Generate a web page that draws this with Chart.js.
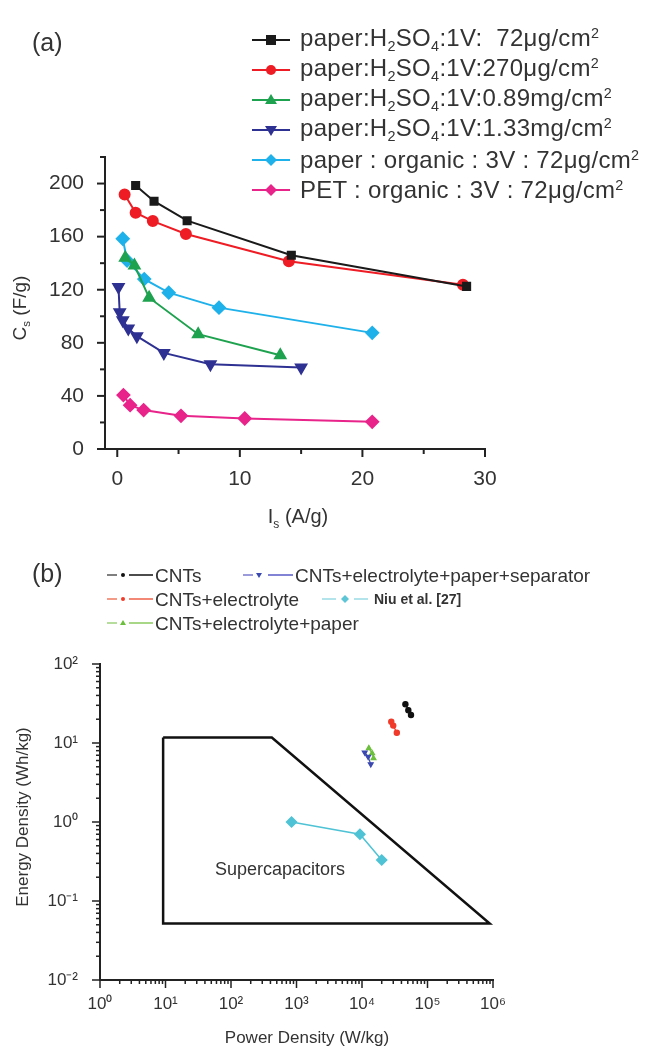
<!DOCTYPE html>
<html>
<head>
<meta charset="utf-8">
<script src="https://cdn.jsdelivr.net/npm/chart.js@4"></script>
<style>
  body { margin: 0; background: #fff; width: 655px; height: 1046px; position: relative; overflow: hidden;
         font-family: "Liberation Sans", Arial, sans-serif; color: #333; }
  canvas { position: absolute; left: 0; }
  .t { position: absolute; white-space: nowrap; line-height: 1; }
  .rot { transform: translate(-50%, -50%) rotate(-90deg); }
  .ctr { transform: translate(-50%, -50%); }
  sub { font-size: 60%; vertical-align: -0.35em; }
  sup { font-size: 60%; vertical-align: 0.55em; }
  #legA .t { font-size: 24px; letter-spacing: 0.3px; transform: translateY(-50%); }
  #legB .t { font-size: 19px; transform: translateY(-50%); }
</style>
</head>
<body>
<canvas id="chartA" width="655" height="540" style="top:0"></canvas>
<canvas id="chartB" width="655" height="506" style="top:540px"></canvas>

<!-- (a) texts -->
<div class="t" style="left:32px;top:30px;font-size:25px">(a)</div>
<div class="t rot" style="left:21px;top:308px;font-size:19px">C<sub>s</sub> (F/g)</div>
<div class="t ctr" style="left:298px;top:518px;font-size:20px">I<sub>s</sub> (A/g)</div>
<div id="legA">
  <div class="t" style="left:300px;top:40px">paper:H<sub>2</sub>SO<sub>4</sub>:1V:&nbsp; 72μg/cm<sup>2</sup></div>
  <div class="t" style="left:300px;top:70px">paper:H<sub>2</sub>SO<sub>4</sub>:1V:270μg/cm<sup>2</sup></div>
  <div class="t" style="left:300px;top:100px">paper:H<sub>2</sub>SO<sub>4</sub>:1V:0.89mg/cm<sup>2</sup></div>
  <div class="t" style="left:300px;top:130px">paper:H<sub>2</sub>SO<sub>4</sub>:1V:1.33mg/cm<sup>2</sup></div>
  <div class="t" style="left:300px;top:160px">paper : organic : 3V : 72μg/cm<sup>2</sup></div>
  <div class="t" style="left:300px;top:190px">PET : organic : 3V : 72μg/cm<sup>2</sup></div>
</div>

<!-- (b) texts -->
<div class="t" style="left:32px;top:561px;font-size:25px">(b)</div>
<div class="t rot" style="left:22px;top:817px;font-size:17px">Energy Density (Wh/kg)</div>
<div class="t ctr" style="left:307px;top:1037px;font-size:17px">Power Density (W/kg)</div>
<div id="legB">
  <div class="t" style="left:155px;top:575px">CNTs</div>
  <div class="t" style="left:295px;top:575px">CNTs+electrolyte+paper+separator</div>
  <div class="t" style="left:155px;top:599px">CNTs+electrolyte</div>
  <div class="t" style="left:374px;top:599px;font-size:14px;font-weight:bold">Niu et al. [27]</div>
  <div class="t" style="left:155px;top:623px">CNTs+electrolyte+paper</div>
</div>

<svg width="655" height="1046" style="position:absolute;left:0;top:0;pointer-events:none">
  <!-- legend (a) glyphs -->
  <g stroke-width="2">
    <line x1="252" y1="40" x2="290" y2="40" stroke="#1a1a1a"/>
    <rect x="266" y="35" width="10" height="10" fill="#1a1a1a"/>
    <line x1="252" y1="70" x2="290" y2="70" stroke="#ee1c24"/>
    <circle cx="271" cy="70" r="5" fill="#ee1c24"/>
    <line x1="252" y1="100" x2="290" y2="100" stroke="#1fa24f"/>
    <polygon points="271,94 277,104 265,104" fill="#1fa24f"/>
    <line x1="252" y1="130" x2="290" y2="130" stroke="#2e3192"/>
    <polygon points="265,126 277,126 271,136" fill="#2e3192"/>
    <line x1="252" y1="160" x2="290" y2="160" stroke="#1eb1ea"/>
    <polygon points="271,154 277,160 271,166 265,160" fill="#1eb1ea"/>
    <line x1="252" y1="190" x2="290" y2="190" stroke="#e8238a"/>
    <polygon points="271,184 277,190 271,196 265,190" fill="#e8238a"/>
  </g>
  <!-- legend (b) glyphs -->
  <g stroke-width="1.5">
    <line x1="107" y1="575" x2="117" y2="575" stroke="#555"/><circle cx="123" cy="575" r="2" fill="#111"/><line x1="129" y1="575" x2="153" y2="575" stroke="#111"/>
    <line x1="243" y1="575" x2="253" y2="575" stroke="#7a7ad0"/><polygon points="256,573 262,573 259,578" fill="#3a48b0"/><line x1="268" y1="575" x2="293" y2="575" stroke="#5a5ac8"/>
    <line x1="107" y1="599" x2="117" y2="599" stroke="#f07a60"/><circle cx="123" cy="599" r="2" fill="#f03a2a"/><line x1="129" y1="599" x2="153" y2="599" stroke="#f0604a"/>
    <line x1="322" y1="599" x2="336" y2="599" stroke="#9adbe6"/><polygon points="345,595 349,599 345,603 341,599" fill="#5cc6d6"/><line x1="354" y1="599" x2="368" y2="599" stroke="#9adbe6"/>
    <line x1="107" y1="623" x2="117" y2="623" stroke="#9ed27a"/><polygon points="123,620 126,625 120,625" fill="#6cbf3c"/><line x1="129" y1="623" x2="153" y2="623" stroke="#8cca60"/>
  </g>
</svg>

<script>
// ---- (a) specific capacitance vs current density ----
const xTicksA = [0, 10, 20, 30];
const xMinorA = [5, 15, 25];
const yTicksA = [0, 40, 80, 120, 160, 200];
const yMinorA = [20, 60, 100, 140, 180, 220];

const blackX = [1.5, 3.0, 5.7, 14.2, 28.5];
const blackY = [198.5, 186.7, 172, 146, 122.5];
const redX = [0.6, 1.5, 2.9, 5.6, 14.0, 28.2];
const redY = [191.7, 178, 171.7, 162, 141.4, 123.8];
const greenX = [0.65, 1.4, 2.6, 6.6, 13.3];
const greenY = [144, 138.3, 114, 86.5, 70.7];
const navyX = [0.1, 0.2, 0.45, 0.9, 1.6, 3.8, 7.6, 15.0];
const navyY = [122, 103, 97, 90.7, 85, 72.4, 63.9, 61.4];
const cyanX = [0.45, 0.8, 2.2, 4.2, 8.3, 20.8];
const cyanY = [158.4, 142, 128, 117.8, 106.5, 87.5];
const pinkX = [0.5, 1.05, 2.15, 5.2, 10.4, 20.8];
const pinkY = [40.6, 33, 29.3, 25, 23, 20.5];

// ---- (b) Ragone plot ----
const xTicksB = [1, 10, 100, 1e3, 1e4, 1e5, 1e6];
const yTicksB = [0.01, 0.1, 1, 10, 100];
const minorMult = [2, 3, 4, 5, 6, 7, 8, 9];

const cntX = [4.6e4, 5.1e4, 5.6e4];
const cntY = [31, 26, 22.6];
const elecX = [2.8e4, 3.0e4, 3.4e4];
const elecY = [18.6, 16.6, 13.5];
const paperX = [1.27e4, 1.43e4, 1.5e4];
const paperY = [8.6, 7.4, 6.4];
const sepX = [1.1e4, 1.24e4, 1.36e4];
const sepY = [7.6, 6.7, 5.4];
const niuX = [840, 9300, 2.0e4];
const niuY = [1.0, 0.70, 0.33];
const superX = [9.2, 420, 8.9e5, 9.2, 9.2];
const superY = [11.7, 11.7, 0.052, 0.052, 11.7];
const superLabel = { text: "Supercapacitors", x: 560, y: 0.245 };

const pts = (xs, ys) => xs.map((x, i) => ({ x: x, y: ys[i] }));
const sup = { "0": "\u2070", "1": "\u00b9", "2": "\u00b2", "3": "\u00b3", "4": "\u2074", "5": "\u2075", "6": "\u2076", "-": "\u207b" };
const pow10Label = (v) => "10" + String(Math.round(Math.log10(v))).split("").map(c => sup[c]).join("");

// outward tick marks drawn with the scales
const tickMarks = {
  id: "tickMarks",
  afterDraw(chart, args, opts) {
    const { ctx, chartArea } = chart;
    const xs = chart.scales.x, ys = chart.scales.y;
    ctx.save();
    ctx.strokeStyle = "#222";
    ctx.lineWidth = opts.lw;
    const drawX = (vals, len) => vals.forEach(v => {
      const p = xs.getPixelForValue(v);
      ctx.beginPath(); ctx.moveTo(p, chartArea.bottom); ctx.lineTo(p, chartArea.bottom + len); ctx.stroke();
    });
    const drawY = (vals, len) => vals.forEach(v => {
      const p = ys.getPixelForValue(v);
      ctx.beginPath(); ctx.moveTo(chartArea.left, p); ctx.lineTo(chartArea.left - len, p); ctx.stroke();
    });
    drawX(opts.xMajor, opts.majLen); drawX(opts.xMinor, opts.minLen);
    drawY(opts.yMajor, opts.majLen); drawY(opts.yMinor, opts.minLen);
    ctx.restore();
  }
};

const boxLabel = {
  id: "boxLabel",
  afterDatasetsDraw(chart, args, opts) {
    if (!opts.text) return;
    const ctx = chart.ctx;
    ctx.save();
    ctx.font = "18px 'Liberation Sans', Arial, sans-serif";
    ctx.fillStyle = "#333";
    ctx.textAlign = "center";
    ctx.textBaseline = "middle";
    ctx.fillText(opts.text, chart.scales.x.getPixelForValue(opts.x), chart.scales.y.getPixelForValue(opts.y));
    ctx.restore();
  }
};

const lineSet = (data, color, style, r, extra) => Object.assign({
  data: data, borderColor: color, backgroundColor: color, borderWidth: 2,
  pointStyle: style, pointRadius: r, pointHoverRadius: r, showLine: true, clip: false
}, extra || {});

const fontA = { family: "'Liberation Sans', Arial, sans-serif", size: 21 };

new Chart(document.getElementById("chartA"), {
  type: "scatter",
  data: {
    datasets: [
      lineSet(pts(blackX, blackY), "#1a1a1a", "rect", 5),
      lineSet(pts(redX, redY), "#ee1c24", "circle", 5),
      lineSet(pts(greenX, greenY), "#1fa24f", "triangle", 6),
      lineSet(pts(navyX, navyY), "#2e3192", "triangle", 6, { rotation: 180 }),
      lineSet(pts(cyanX, cyanY), "#1eb1ea", "rectRot", 6),
      lineSet(pts(pinkX, pinkY), "#e8238a", "rectRot", 6)
    ]
  },
  options: {
    responsive: false,
    animation: false,
    layout: { padding: { left: 0, top: 157, right: 170, bottom: 0 } },
    plugins: {
      legend: { display: false }, tooltip: { enabled: false },
      tickMarks: { lw: 2, majLen: 8, minLen: 5, xMajor: xTicksA, xMinor: xMinorA, yMajor: yTicksA, yMinor: yMinorA },
      boxLabel: {}
    },
    scales: {
      x: {
        type: "linear", min: -1, max: 30,
        afterBuildTicks: (s) => { s.ticks = xTicksA.map(v => ({ value: v })); },
        afterFit: (s) => { s.height = 540 - 449; },
        grid: { display: false },
        border: { display: true, color: "#222", width: 2 },
        ticks: { color: "#333", font: fontA, padding: 10, maxRotation: 0 }
      },
      y: {
        min: 0, max: 220,
        afterBuildTicks: (s) => { s.ticks = yTicksA.map(v => ({ value: v })); },
        afterFit: (s) => { s.width = 105; },
        grid: { display: false },
        border: { display: true, color: "#222", width: 2 },
        ticks: { color: "#333", font: fontA, padding: 13 }
      }
    }
  },
  plugins: [tickMarks, boxLabel]
});

const fontB = { family: "'Liberation Sans', Arial, sans-serif", size: 17 };
const minorB = (majors) => {
  const out = [];
  majors.slice(0, -1).forEach(d => minorMult.forEach(m => out.push(m * d)));
  return out;
};

new Chart(document.getElementById("chartB"), {
  type: "scatter",
  data: {
    datasets: [
      lineSet(pts(superX, superY), "#111", "circle", 0, { borderWidth: 2.5 }),
      lineSet(pts(niuX, niuY), "#4fc3d5", "rectRot", 5, { borderWidth: 1.5 }),
      lineSet(pts(sepX, sepY), "#3a48b0", "triangle", 2.8, { borderWidth: 1.2, rotation: 180 }),
      lineSet(pts(paperX, paperY), "#6cbf3c", "triangle", 2.8, { borderWidth: 1.2 }),
      lineSet(pts(elecX, elecY), "#f03a2a", "circle", 2.6, { borderWidth: 1.2 }),
      lineSet(pts(cntX, cntY), "#111", "circle", 2.6, { borderWidth: 1.2 })
    ]
  },
  options: {
    responsive: false,
    animation: false,
    layout: { padding: { left: 0, top: 124, right: 162, bottom: 0 } },
    plugins: {
      legend: { display: false }, tooltip: { enabled: false },
      tickMarks: { lw: 1.5, majLen: 8, minLen: 4, xMajor: xTicksB, xMinor: minorB(xTicksB), yMajor: yTicksB, yMinor: minorB(yTicksB) },
      boxLabel: superLabel
    },
    scales: {
      x: {
        type: "logarithmic", min: 1, max: 1e6,
        afterBuildTicks: (s) => { s.ticks = xTicksB.map(v => ({ value: v })); },
        afterFit: (s) => { s.height = 66; },
        grid: { display: false },
        border: { display: true, color: "#222", width: 2 },
        ticks: { color: "#333", font: fontB, padding: 6, maxRotation: 0, callback: (v) => pow10Label(v) }
      },
      y: {
        type: "logarithmic", min: 0.01, max: 100,
        afterBuildTicks: (s) => { s.ticks = yTicksB.map(v => ({ value: v })); },
        afterFit: (s) => { s.width = 100; },
        grid: { display: false },
        border: { display: true, color: "#222", width: 2 },
        ticks: { color: "#333", font: fontB, padding: 14, callback: (v) => pow10Label(v) }
      }
    }
  },
  plugins: [tickMarks, boxLabel]
});
</script>
</body>
</html>
